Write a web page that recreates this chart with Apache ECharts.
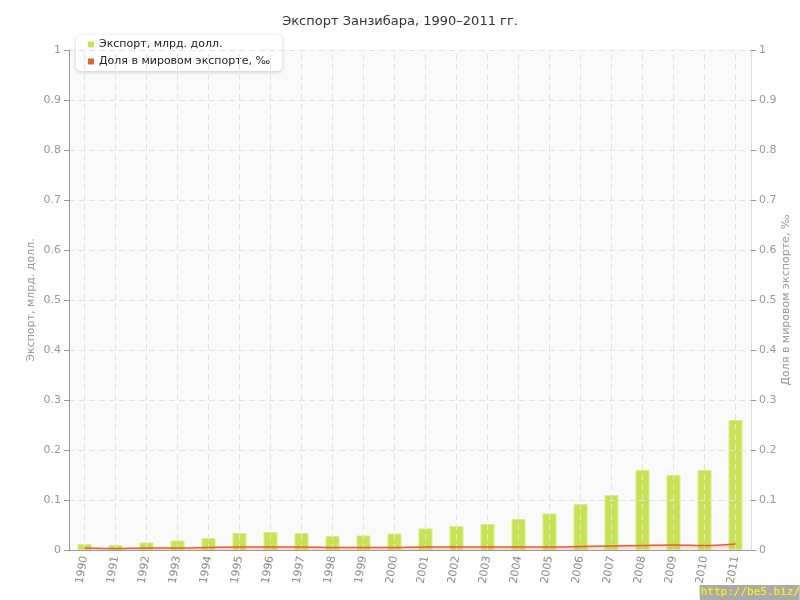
<!DOCTYPE html>
<html><head><meta charset="utf-8">
<script src="https://cdn.jsdelivr.net/npm/echarts@6/dist/echarts.min.js"></script>
<style>html,body{margin:0;padding:0;background:#fff}#c{width:800px;height:600px}</style>
</head><body><div id="c"></div>
<script>
const years = ['1990','1991','1992','1993','1994','1995','1996','1997','1998','1999','2000','2001','2002','2003','2004','2005','2006','2007','2008','2009','2010','2011'];
const exportValues = [0.012,0.010,0.015,0.019,0.024,0.034,0.036,0.034,0.028,0.029,0.033,0.043,0.048,0.052,0.062,0.073,0.092,0.110,0.160,0.150,0.160,0.260];
const shareValues = [0.004,0.003,0.004,0.004,0.005,0.006,0.006,0.006,0.005,0.005,0.005,0.006,0.006,0.006,0.006,0.006,0.007,0.008,0.009,0.010,0.009,0.012];
const titleText = 'Экспорт Занзибара, 1990–2011 гг.';
const seriesNames = ['Экспорт, млрд. долл.', 'Доля в мировом экспорте, ‰'];

const font = 'DejaVu Sans';
const chart = echarts.init(document.getElementById('c'), null, {renderer:'canvas'});
chart.setOption({
  animation:false,
  backgroundColor:'#fff',
  textStyle:{fontFamily:font},
  title:{text:titleText,left:'center',top:10,textStyle:{fontFamily:font,fontSize:13,fontWeight:'normal',color:'#333'}},
  legend:{
    orient:'vertical',left:76,top:35,itemWidth:6,itemHeight:6,itemGap:6,
    padding:[4,12,4,12],
    backgroundColor:'#fff',borderRadius:5,shadowColor:'rgba(0,0,0,0.2)',shadowBlur:4,shadowOffsetY:1,
    itemStyle:{borderWidth:0},
    textStyle:{fontFamily:font,fontSize:11,color:'#222'},
    data:[{name:seriesNames[0],icon:'rect'},{name:seriesNames[1],icon:'rect'}]
  },
  grid:{left:69,right:49,top:50,bottom:50,show:true,backgroundColor:'#fafafa',borderWidth:0,outerBoundsMode:'none',containLabel:false},
  xAxis:{
    type:'category',data:years,z:5,
    axisLine:{lineStyle:{color:'#999'}},
    axisTick:{alignWithLabel:true,length:5,lineStyle:{color:'#999'}},
    axisLabel:{rotate:80,color:'#888',fontSize:11,fontFamily:font,margin:6},
    splitLine:{show:false}
  },
  yAxis:[{
    type:'value',min:0,max:1,interval:0.1,z:5,
    name:seriesNames[0],nameLocation:'middle',nameGap:32,nameMoveOverlap:false,
    nameTextStyle:{color:'#999',fontSize:11,fontFamily:font},
    axisLine:{show:true,lineStyle:{color:'#999'}},
    axisTick:{show:true,length:5,lineStyle:{color:'#999'}},
    axisLabel:{color:'#999',fontSize:11,fontFamily:font,margin:8},
    splitLine:{lineStyle:{color:'#e2e2e2',type:[6,4]}}
  },{
    type:'value',min:0,max:1,interval:0.1,z:5,position:'right',
    name:seriesNames[1],nameLocation:'middle',nameGap:30,nameMoveOverlap:false,
    nameTextStyle:{color:'#999',fontSize:11,fontFamily:font},
    axisLine:{show:true,lineStyle:{color:'#ddd'}},
    axisTick:{show:true,length:5,lineStyle:{color:'#999'}},
    axisLabel:{color:'#999',fontSize:11,fontFamily:font,margin:8},
    splitLine:{show:false}
  }],
  series:[{
    name:seriesNames[0],type:'bar',yAxisIndex:0,barWidth:14,
    data:exportValues,
    itemStyle:{color:'#c8e350',borderColor:'#d8ec8a',borderWidth:1},
    markLine:{silent:true,symbol:'none',label:{show:false},z:6,
      lineStyle:{color:'#e2e2e2',type:[6,4],width:1},
      data:years.map(y=>({xAxis:y}))}
  },{
    name:seriesNames[1],type:'line',yAxisIndex:1,symbol:'none',smooth:0.3,
    data:shareValues,z:7,
    itemStyle:{color:'#e8602c'},
    lineStyle:{color:'#e0622a',width:1.5,shadowColor:'rgba(240,140,100,0.7)',shadowBlur:3,shadowOffsetY:2}
  }],
  graphic:[{
    type:'group',right:0,bottom:0,children:[
      {type:'rect',shape:{x:0,y:0,width:100,height:15},style:{fill:'#aaa'}},
      {type:'text',x:1,y:2,style:{text:'http://be5.biz/',fill:'#ffff00',font:'11px "DejaVu Sans Mono", monospace'}}
    ]
  }]
});
</script></body></html>
